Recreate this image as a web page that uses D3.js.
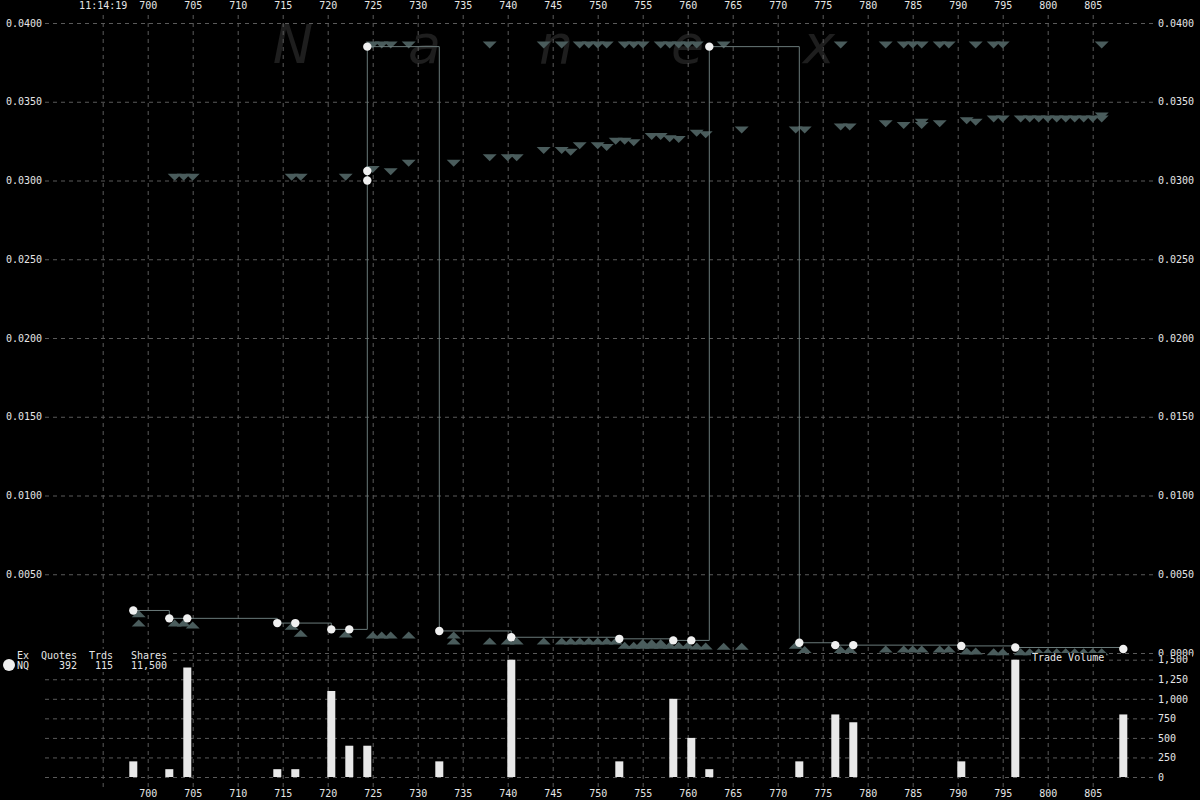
<!DOCTYPE html>
<html><head><meta charset="utf-8">
<script src="https://cdn.jsdelivr.net/npm/d3@7"></script>
<style>html,body{margin:0;padding:0;background:#000;} svg{display:block;}</style>
</head><body>
<svg id="c" width="1200" height="800"></svg>
<script>
// ---------- data ----------
const xTicks = [695,700,705,710,715,720,725,730,735,740,745,750,755,760,765,770,775,780,785,790,795,800,805];
const firstTickLabel = "11:14:19";
const priceTicks = [0,0.005,0.010,0.015,0.020,0.025,0.030,0.035,0.040];
const volTicks = [0,250,500,750,1000,1250,1500];

// trades (time, price) in order
const tradeT = [698.4,702.4,704.4,714.4,716.4,720.4,722.4,724.4,724.4,724.4,732.4,740.4,752.4,758.4,760.4,762.4,772.4,776.4,778.4,790.4,796.4,808.4];
const tradeP = [0.0027,0.0022,0.0022,0.0019,0.0019,0.0015,0.0015,0.0300,0.0306,0.0385,0.0014,0.0010,0.0009,0.0008,0.0008,0.0385,0.00065,0.0005,0.0005,0.00045,0.00035,0.00025];

// volume per trade time
const volT = [698.4,702.4,704.4,714.4,716.4,720.4,722.4,724.4,732.4,740.4,752.4,758.4,760.4,762.4,772.4,776.4,778.4,790.4,796.4,808.4];
const volV = [200,100,1400,100,100,1100,400,400,200,1500,200,1000,500,100,200,800,700,200,1500,800];

// ask quotes (down triangles)
const askT = [725,726,727,729,738,744,746,748,749,750,751,753,754,755,757,758,759,760,761,764,777,782,784,785,786,788,789,792,794,795,806,
  703,704,705,716,717,722,725,727,729,734,738,740,741,744,746,747,748,750,751,752,753,754,756,757,758,759,761,762,766,772,773,777,778,782,784,786,786,788,791,792,794,795,797,798,799,800,801,802,803,804,805,806,806];
const askP = [0.0386,0.0386,0.0386,0.0386,0.0386,0.0386,0.0386,0.0386,0.0386,0.0386,0.0386,0.0386,0.0386,0.0386,0.0386,0.0386,0.0386,0.0386,0.0386,0.0386,0.0386,0.0386,0.0386,0.0386,0.0386,0.0386,0.0386,0.0386,0.0386,0.0386,0.0386,
  0.0302,0.0302,0.0302,0.0302,0.0302,0.0302,0.0307,0.03055,0.0311,0.0311,0.03145,0.03145,0.03145,0.0319,0.0319,0.0318,0.0322,0.0322,0.0321,0.0325,0.0325,0.0324,0.0328,0.0328,0.03265,0.0326,0.0330,0.0329,0.0332,0.0332,0.0332,0.0334,0.0334,0.0336,0.0335,0.0337,0.0335,0.0336,0.0338,0.0337,0.0339,0.0339,0.0339,0.0339,0.0339,0.0339,0.0339,0.0339,0.0339,0.0339,0.0339,0.0341,0.0339];

// bid quotes (up triangles)
const bidT = [699,699,703,704,705,716,717,722,725,726,727,729,734,734,738,740,741,744,746,747,748,749,750,751,752,753,754,755,755,756,756,757,757,758,759,760,761,762,764,766,772,773,777,778,782,784,785,786,788,789,791,792,794,795,797,798,799,800,801,802,803,804,805,806];
const bidP = [0.0025,0.0019,0.0019,0.0019,0.00178,0.0017,0.00125,0.0012,0.00114,0.00114,0.00114,0.00114,0.00114,0.00076,0.00076,0.00076,0.00076,0.00076,0.00076,0.00076,0.00076,0.00076,0.00076,0.00076,0.00076,0.0005,0.0005,0.0005,0.00065,0.0005,0.00065,0.0005,0.00065,0.0005,0.0005,0.0005,0.00045,0.00045,0.00043,0.00043,0.0005,0.00022,0.00022,0.00022,0.00025,0.00025,0.00025,0.00025,0.00025,0.00025,0.00012,0.00012,0.00008,0.00008,0.00008,0.00008,0.00008,0.00008,0.00008,0.00008,0.00008,0.00008,0.00008,0.00008];

const legendHeader = ["Ex","Quotes","Trds","Shares"];
const legendRow = ["NQ","392","115","11,500"];
const watermark = ["N","a","n","e","x"];

// ---------- drawing ----------
const svg = d3.select("#c");
svg.append("rect").attr("width",1200).attr("height",800).attr("fill","#000");

const x = d3.scaleLinear().domain([695, 805]).range([102.7, 1092.7]);
const y = d3.scaleLinear().domain([0, 0.04]).range([653, 23]);
const yv = d3.scaleLinear().domain([0, 1500]).range([777, 659.7]);

const FONT = "'DejaVu Sans Mono', monospace";
const TXT = "#e6e6e6";
const GRID = "#5a5a5a";
const TRI = "#4a5c5c";
const LINE = "#6a7a7a";

// watermark
svg.append("g").selectAll("text").data(watermark).join("text")
  .attr("x",(d,i)=>293 + i*131.5).attr("y",63)
  .attr("text-anchor","middle")
  .attr("font-family","'DejaVu Sans', sans-serif").attr("font-style","italic")
  .attr("font-size",54).attr("fill","#1e1e1e").text(d=>d);

function styleGrid(g){
  g.select(".domain").remove();
  g.selectAll("line").attr("stroke",GRID).attr("stroke-dasharray","4,4");
}
// vertical grid
svg.append("g").attr("transform","translate(0,787)")
  .call(d3.axisBottom(x).tickValues(xTicks).tickSize(-(787-13)).tickFormat(""))
  .call(styleGrid);
// price horizontal grid
svg.append("g").attr("transform","translate(45,0)")
  .call(d3.axisLeft(y).tickValues(priceTicks).tickSize(-(1153-45)).tickFormat(""))
  .call(styleGrid);
// volume horizontal grid
svg.append("g").attr("transform","translate(45,0)")
  .call(d3.axisLeft(yv).tickValues(volTicks).tickSize(-(1153-45)).tickFormat(""))
  .call(styleGrid);

// quotes
const downTri = "M-7,-3.5L7,-3.5L0,3.5Z";
const upTri = "M-7,3.5L7,3.5L0,-3.5Z";
svg.append("g").selectAll("path").data(d3.range(askT.length)).join("path")
  .attr("d",downTri).attr("fill",TRI)
  .attr("transform",i=>`translate(${x(askT[i])},${y(askP[i])})`);
svg.append("g").selectAll("path").data(d3.range(bidT.length)).join("path")
  .attr("d",upTri).attr("fill",TRI)
  .attr("transform",i=>`translate(${x(bidT[i])},${y(bidP[i])})`);

// volume bars
svg.append("g").selectAll("rect").data(d3.range(volT.length)).join("rect")
  .attr("x",i=>x(volT[i])-4).attr("width",8)
  .attr("y",i=>yv(volV[i])).attr("height",i=>yv(0)-yv(volV[i]))
  .attr("fill","#e8e8e8");

// trade step line
const line = d3.line().x(i=>x(tradeT[i])).y(i=>y(tradeP[i])).curve(d3.curveStepAfter);
svg.append("path").attr("d",line(d3.range(tradeT.length)))
  .attr("fill","none").attr("stroke",LINE).attr("stroke-width",1);
svg.append("g").selectAll("circle").data(d3.range(tradeT.length)).join("circle")
  .attr("cx",i=>x(tradeT[i])).attr("cy",i=>y(tradeP[i])).attr("r",4.2)
  .attr("fill","#f0f0f0");

function styleLabels(g){
  g.select(".domain").remove();
  g.selectAll("line").remove();
  g.selectAll("text").attr("fill",TXT).attr("font-family",FONT).attr("font-size",10);
}
// top x labels
svg.append("g").attr("transform","translate(0,9)")
  .call(d3.axisTop(x).tickValues(xTicks).tickSize(0).tickPadding(0)
    .tickFormat(d=> d===xTicks[0] ? firstTickLabel : d))
  .call(styleLabels);
// bottom x labels
svg.append("g").attr("transform","translate(0,790)")
  .call(d3.axisBottom(x).tickValues(xTicks.slice(1)).tickSize(0).tickPadding(0))
  .call(styleLabels);
// price labels (left one at 0 is covered by the legend in the reference)
svg.append("g").attr("transform","translate(42,0)")
  .call(d3.axisLeft(y).tickValues(priceTicks.slice(1)).tickSize(0).tickPadding(0).tickFormat(d3.format(".4f")))
  .call(styleLabels);
svg.append("g").attr("transform","translate(1158,0)")
  .call(d3.axisRight(y).tickValues(priceTicks).tickSize(0).tickPadding(0).tickFormat(d3.format(".4f")))
  .call(styleLabels);
// volume labels (with background)
svg.append("rect").attr("x",1156).attr("y",yv(1500)-4.5).attr("width",36).attr("height",10).attr("fill","#000");
svg.append("g").attr("transform","translate(1158,0)")
  .call(d3.axisRight(yv).tickValues(volTicks).tickSize(0).tickPadding(0).tickFormat(d3.format(",")))
  .call(styleLabels);

// Trade Volume label
svg.append("rect").attr("x",1031).attr("y",653).attr("width",75).attr("height",11).attr("fill","#000");
svg.append("text").attr("x",1032).attr("y",661).attr("fill",TXT)
  .attr("font-family",FONT).attr("font-size",10).text("Trade Volume");

// legend
svg.append("rect").attr("x",0).attr("y",649).attr("width",172).attr("height",23).attr("fill","#000");
svg.append("circle").attr("cx",9).attr("cy",665).attr("r",6).attr("fill","#eeeeee");
const legendX = [29,77,113,167];
svg.append("g").selectAll("text").data(legendHeader).join("text")
  .attr("x",(d,i)=>legendX[i]).attr("y",659).attr("text-anchor","end")
  .attr("fill",TXT).attr("font-family",FONT).attr("font-size",10).text(d=>d);
svg.append("g").selectAll("text").data(legendRow).join("text")
  .attr("x",(d,i)=>legendX[i]).attr("y",669).attr("text-anchor","end")
  .attr("fill",TXT).attr("font-family",FONT).attr("font-size",10).text(d=>d);
</script>
</body></html>
